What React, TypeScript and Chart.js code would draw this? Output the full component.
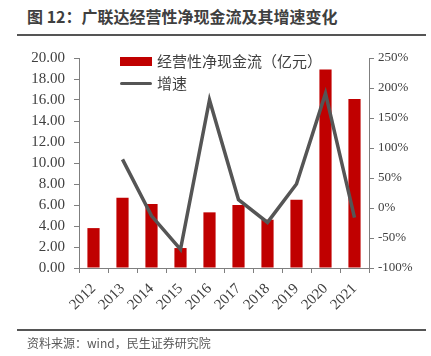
import React, { useEffect, useRef } from "react";
import { Chart, registerables } from "chart.js";

Chart.register(...registerables);

const years = ["2012", "2013", "2014", "2015", "2016", "2017", "2018", "2019", "2020", "2021"];
const cashFlow = [3.8, 6.7, 6.1, 1.9, 5.3, 6.0, 4.6, 6.5, 18.9, 16.1];
const growth = [null, 81, -13, -69, 180, 14, -24, 40, 191, -16];
const leftTicks = [0, 2, 4, 6, 8, 10, 12, 14, 16, 18, 20];
const rightTicks = [-100, -50, 0, 50, 100, 150, 200, 250];

const titleText = "图 12：广联达经营性净现金流及其增速变化";
const sourceText = "资料来源：wind，民生证券研究院";
const barLabel = "经营性净现金流（亿元）";
const lineLabel = "增速";

const RED = "#C00000";
const GRAY = "#555555";
const serif = "'Liberation Serif', 'Times New Roman', serif";
const cjk = "'Noto Sans CJK SC', sans-serif";

export default function App() {
  const ref = useRef<HTMLCanvasElement>(null);
  useEffect(() => {
    if (!ref.current) return;
    const chart = new Chart(ref.current, {
      type: "bar",
      data: {
        labels: years,
        datasets: [
          {
            type: "line",
            label: lineLabel,
            data: growth as any,
            yAxisID: "y1",
            borderColor: GRAY,
            backgroundColor: GRAY,
            borderWidth: 3.5,
            pointRadius: 0,
            tension: 0,
            order: 0,
          },
          {
            type: "bar",
            label: barLabel,
            data: cashFlow,
            yAxisID: "y",
            backgroundColor: RED,
            barPercentage: 0.42,
            categoryPercentage: 1,
            order: 1,
          },
        ],
      },
      options: {
        animation: false,
        responsive: false,
        maintainAspectRatio: false,
        layout: { padding: { top: 14, left: 0, right: 0, bottom: 0 } },
        plugins: { legend: { display: false }, tooltip: { enabled: false }, title: { display: false } },
        scales: {
          x: {
            offset: true,
            grid: { drawOnChartArea: false, offset: true, tickLength: 5, color: "#7f7f7f" },
            border: { color: "#7f7f7f", width: 1 },
            ticks: {
              autoSkip: false,
              maxRotation: 45,
              minRotation: 45,
              color: "#404040",
              font: { family: serif, size: 15 },
              padding: 7,
            },
            afterFit: (s: any) => {
              s.height = 62;
            },
          },
          y: {
            position: "left",
            min: 0,
            max: 20,
            afterBuildTicks: (s: any) => {
              s.ticks = leftTicks.map((v) => ({ value: v }));
            },
            grid: { drawOnChartArea: false, tickLength: 5, color: "#7f7f7f" },
            border: { color: "#7f7f7f", width: 1 },
            ticks: {
              color: "#404040",
              font: { family: serif, size: 15 },
              padding: 9,
              callback: (v: any) => Number(v).toFixed(2),
            },
            afterFit: (s: any) => {
              s.width = 79;
            },
          },
          y1: {
            position: "right",
            min: -100,
            max: 250,
            afterBuildTicks: (s: any) => {
              s.ticks = rightTicks.map((v) => ({ value: v }));
            },
            grid: { drawOnChartArea: false, tickLength: 5, color: "#7f7f7f" },
            border: { color: "#7f7f7f", width: 1 },
            ticks: {
              color: "#404040",
              font: { family: serif, size: 13 },
              padding: 4,
              callback: (v: any) => v + "%",
            },
            afterFit: (s: any) => {
              s.width = 62;
            },
          },
        },
      },
    });
    return () => chart.destroy();
  }, []);

  return (
    <div style={{ position: "fixed", left: 0, top: 0, width: 431, height: 356, background: "#fff", overflow: "hidden" }}>
      <div
        style={{
          position: "absolute",
          left: 27,
          top: 5,
          fontFamily: cjk,
          fontWeight: 700,
          fontSize: 16,
          color: "#3f3f3f",
          whiteSpace: "nowrap",
          lineHeight: "22px",
        }}
      >
        {titleText}
      </div>
      <div style={{ position: "absolute", left: 17, top: 34, width: 409, height: 1.5, background: "#555" }} />
      <canvas ref={ref} width={431} height={290} style={{ position: "absolute", left: 0, top: 40, width: 431, height: 290 }} />
      <div style={{ position: "absolute", left: 120, top: 57, width: 32, height: 9, background: RED }} />
      <div
        style={{ position: "absolute", left: 157, top: 51, fontFamily: cjk, fontSize: 15, color: "#404040", lineHeight: "20px", whiteSpace: "nowrap" }}
      >
        {barLabel}
      </div>
      <div style={{ position: "absolute", left: 120, top: 81.5, width: 32, height: 3.5, background: GRAY, borderRadius: 2 }} />
      <div
        style={{ position: "absolute", left: 157, top: 73, fontFamily: cjk, fontSize: 15, color: "#404040", lineHeight: "20px", whiteSpace: "nowrap" }}
      >
        {lineLabel}
      </div>
      <div style={{ position: "absolute", left: 17, top: 329, width: 409, height: 1.5, background: "#555" }} />
      <div
        style={{ position: "absolute", left: 27, top: 334, fontFamily: cjk, fontSize: 12, color: "#595959", lineHeight: "18px", whiteSpace: "nowrap" }}
      >
        {sourceText}
      </div>
    </div>
  );
}
